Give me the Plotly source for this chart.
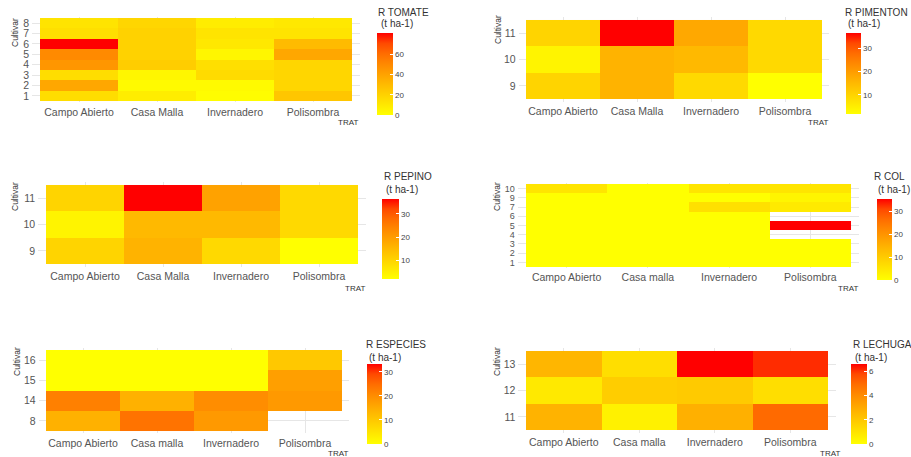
import plotly.graph_objects as go

W, H = 911, 457
FONT = "Arial, 'Liberation Sans', sans-serif"

# ---------------- data ----------------
trat_upper = ["Campo Abierto", "Casa Malla", "Invernadero", "Polisombra"]
trat_lower = ["Campo Abierto", "Casa malla", "Invernadero", "Polisombra"]

# rows = cultivar (bottom -> top), columns = TRAT
tomate_cult = ["1", "2", "3", "4", "5", "6", "7", "8"]
tomate_vals = [
    [15, 8, 1, 25],
    [38, 2, 2, 18],
    [15, 4, 16, 18],
    [45, 22, 14, 18],
    [50, 20, 4, 38],
    [81, 20, 10, 30],
    [14, 20, 12, 12],
    [12, 18, 8, 10],
]
tomate_lim = [0, 81]
tomate_ticks = [0, 20, 40, 60]

pimenton_cult = ["9", "10", "11"]
pimenton_vals = [
    [10, 16, 9, 1.9],
    [4, 16, 15, 9],
    [10, 36.4, 18, 9],
]
pimenton_lim = [1.9, 36.4]
pimenton_ticks = [10, 20, 30]

pepino_cult = ["9", "10", "11"]
pepino_vals = [
    [10, 16, 9, 1.9],
    [4, 15, 15, 9],
    [10, 36.4, 19, 9],
]
pepino_lim = [1.9, 36.4]
pepino_ticks = [10, 20, 30]

col_cult = ["1", "2", "3", "4", "5", "6", "7", "9", "10"]
col_vals = [
    [0, 0, 0, 0],
    [0, 0, 0, 0],
    [0, 0, 0, 0],
    [0, 0, 0, None],
    [0, 0, 0, 35.5],
    [0, 0, 0, None],
    [0, 0, 6, 4],
    [0, 0, 0, 2],
    [5, 0, 5, 5],
]
col_lim = [0, 35.5]
col_ticks = [0, 10, 20, 30]

especies_cult = ["8", "14", "15", "16"]
especies_vals = [
    [14, 24, 18, None],
    [22, 14, 20, 18],
    [0, 0, 0, 17],
    [0, 0, 0, 10],
]
especies_lim = [0, 33.3]
especies_ticks = [0, 10, 20, 30]

lechuga_cult = ["11", "12", "13"]
lechuga_vals = [
    [2.7, 0.5, 2.8, 5.0],
    [0.8, 1.8, 1.9, 1.2],
    [2.6, 1.2, 6.6, 6.1],
]
lechuga_lim = [0, 6.6]
lechuga_ticks = [0, 2, 4, 6]

# ------------- colours (ggplot yellow->red gradient, Lab-interpolated) -------------
scale = [
    [0.0, "#FFFF00"], [0.125, "#FFE800"], [0.25, "#FFD100"], [0.375, "#FFBA00"],
    [0.5, "#FFA100"], [0.625, "#FF8800"], [0.75, "#FF6C00"], [0.875, "#FF4900"],
    [1.0, "#FF0000"],
]

# ------------- panel layout (pixels) -------------
panels = [
    dict(title="R TOMATE", trat=trat_upper, cult=tomate_cult, z=tomate_vals, lim=tomate_lim, ticks=tomate_ticks,
         tile=(40, 352, 18, 101), cbar=(377, 33, 82, 16), t1=(376, 12), t2=(379, 24), ylab=(15, 33), tlab=(348, 123),
         yfs=10.5),
    dict(title="R PIMENTON", trat=trat_upper, cult=pimenton_cult, z=pimenton_vals, lim=pimenton_lim, ticks=pimenton_ticks,
         tile=(526, 822, 20, 99), cbar=(846, 33, 81, 15), t1=(843, 12), t2=(846, 24), ylab=(498, 30), tlab=(818, 123),
         yfs=10.5),
    dict(title="R PEPINO", trat=trat_upper, cult=pepino_cult, z=pepino_vals, lim=pepino_lim, ticks=pepino_ticks,
         tile=(46, 358, 185, 264), cbar=(382, 199, 80, 17), t1=(382, 177), t2=(384, 190), ylab=(15, 197), tlab=(355, 288),
         yfs=10.5),
    dict(title="R COL", trat=trat_lower, cult=col_cult, z=col_vals, lim=col_lim, ticks=col_ticks,
         tile=(526, 851, 184, 267), cbar=(877, 199, 81, 15), t1=(872, 177), t2=(876, 190), ylab=(497, 197), tlab=(848, 288),
         yfs=9),
    dict(title="R ESPECIES", trat=trat_lower, cult=especies_cult, z=especies_vals, lim=especies_lim, ticks=especies_ticks,
         tile=(46, 342, 350, 431), cbar=(367, 364, 80, 15), t1=(364, 344), t2=(367, 357), ylab=(17, 362), tlab=(338, 453),
         yfs=10.5),
    dict(title="R LECHUGA", trat=trat_lower, cult=lechuga_cult, z=lechuga_vals, lim=lechuga_lim, ticks=lechuga_ticks,
         tile=(526, 828, 351, 430), cbar=(851, 364, 80, 16), t1=(851, 344), t2=(853, 357), ylab=(497, 362), tlab=(830, 453),
         yfs=10.5),
]

fig = go.Figure()
layout = dict(
    width=W, height=H, margin=dict(l=0, r=0, t=0, b=0),
    paper_bgcolor="white", plot_bgcolor="white",
    font=dict(family=FONT, color="#555555"),
    showlegend=False, annotations=[],
)

def px(x):
    return x / W

def py(y):
    return 1 - y / H

for i, p in enumerate(panels, start=1):
    sfx = "" if i == 1 else str(i)
    x0, x1, y0, y1 = p["tile"]
    nx, ny = len(p["trat"]), len(p["cult"])
    ux = (x1 - x0) / nx
    uy = (y1 - y0) / ny
    xdom = [px(x0 - 0.1 * ux), px(x1 + 0.1 * ux)]
    ydom = [py(y1 + 0.1 * uy), py(y0 - 0.1 * uy)]

    fig.add_trace(go.Heatmap(
        x=p["trat"], y=p["cult"], z=p["z"],
        xaxis="x" + sfx, yaxis="y" + sfx,
        coloraxis="coloraxis" + sfx,
        hoverongaps=False,
    ))

    axcommon = dict(showgrid=True, gridcolor="#E6E6E6", gridwidth=1, zeroline=False,
                    showline=False, ticks="")
    layout["xaxis" + sfx] = dict(axcommon, domain=xdom, anchor="y" + sfx, type="category",
                                 categoryorder="array", categoryarray=p["trat"],
                                 tickmode="array", tickvals=p["trat"], ticktext=p["trat"],
                                 tickfont=dict(size=10.5, color="#555555", family=FONT),
                                 range=[-0.6, nx - 0.4], fixedrange=True, ticklabelstandoff=2)
    layout["yaxis" + sfx] = dict(axcommon, domain=ydom, anchor="x" + sfx, type="category",
                                 categoryorder="array", categoryarray=p["cult"],
                                 tickmode="array", tickvals=p["cult"], ticktext=p["cult"],
                                 tickfont=dict(size=p["yfs"], color="#555555", family=FONT),
                                 range=[-0.6, ny - 0.4], fixedrange=True, ticklabelstandoff=2)

    cx, ctop, clen, cthk = p["cbar"]
    layout["coloraxis" + sfx] = dict(
        colorscale=scale, cmin=p["lim"][0], cmax=p["lim"][1],
        colorbar=dict(
            x=px(cx), xanchor="left", y=py(ctop), yanchor="top",
            len=clen, lenmode="pixels", thickness=cthk, thicknessmode="pixels",
            xpad=0, ypad=0, outlinewidth=0,
            tickvals=p["ticks"], ticks="inside", ticklen=3, tickcolor="white", tickwidth=1,
            tickfont=dict(size=8, color="#444444", family=FONT), title=dict(text=""),
        ),
    )

    ann = layout["annotations"]
    ann.append(dict(text=p["title"], x=px(p["t1"][0]), y=py(p["t1"][1]), xref="paper", yref="paper",
                    xanchor="left", yanchor="middle", showarrow=False,
                    font=dict(size=10, color="#333333", family=FONT)))
    ann.append(dict(text="(t ha-1)", x=px(p["t2"][0]), y=py(p["t2"][1]), xref="paper", yref="paper",
                    xanchor="left", yanchor="middle", showarrow=False,
                    font=dict(size=10, color="#333333", family=FONT)))
    ann.append(dict(text="Cultivar", x=px(p["ylab"][0]), y=py(p["ylab"][1]), xref="paper", yref="paper",
                    xanchor="center", yanchor="middle", textangle=-90, showarrow=False,
                    font=dict(size=8.5, color="#333333", family=FONT)))
    ann.append(dict(text="TRAT", x=px(p["tlab"][0]), y=py(p["tlab"][1]), xref="paper", yref="paper",
                    xanchor="center", yanchor="middle", showarrow=False,
                    font=dict(size=8, color="#333333", family=FONT)))

fig.update_layout(**layout)
fig.write_html("out.html", config={"displayModeBar": False},
               post_script="document.body.style.margin='0';document.body.style.padding='0';")
